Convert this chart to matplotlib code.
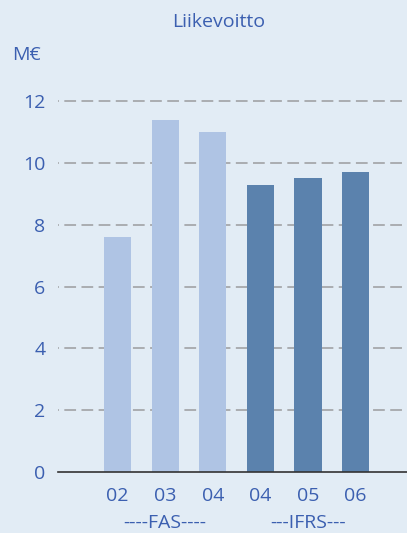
import matplotlib
matplotlib.use("Agg")
import matplotlib.pyplot as plt

categories = ["02", "03", "04", "04", "05", "06"]
values = [7.6, 11.4, 11.0, 9.3, 9.5, 9.7]
standards = ["FAS", "FAS", "FAS", "IFRS", "IFRS", "IFRS"]
group_labels = ["----FAS----", "---IFRS---"]
yticks = [0, 2, 4, 6, 8, 10, 12]
title = "Liikevoitto"
unit = "M€"

bg = "#E2ECF5"
light = "#AFC4E4"
dark = "#5B82AD"
txt = "#3B5FB0"
grid = "#A6A8AB"

plt.rcParams['font.family'] = ['Open Sans', 'DejaVu Sans']
fs = 14

fig = plt.figure(figsize=(4.07, 5.33), dpi=100, facecolor=bg)
ax = fig.add_axes([0.1425, 0.1144, 0.8575, 0.7076], facecolor=bg)

x = list(range(len(categories)))
colors = [light if s == "FAS" else dark for s in standards]
ax.bar(x, values, width=0.57, color=colors, zorder=2)

ax.set_xlim(-1.25, 6.08)
ax.set_ylim(0, 12.2)
ax.set_yticks(yticks)
ax.set_yticklabels([str(t) for t in yticks])
ax.set_xticks(x)
ax.set_xticklabels(categories)
for t in yticks[1:]:
    ax.axhline(t, color=grid, lw=1.3, ls=(6.0, (6.5, 3.0)), zorder=1)

for s in ["top", "right", "left"]:
    ax.spines[s].set_visible(False)
ax.spines["bottom"].set_color("#333333")
ax.spines["bottom"].set_linewidth(1.2)
ax.tick_params(axis="both", length=0, labelsize=fs, labelcolor=txt)
ax.tick_params(axis="y", pad=9)
ax.tick_params(axis="x", pad=11)

fig.text(0.538, 0.959, title, ha="center", va="center", color=txt, fontsize=fs)
fig.text(0.029, 0.897, unit, ha="left", va="center", color=txt, fontsize=fs)

# group labels under the ticks
fas_idx = [i for i, s in enumerate(standards) if s == "FAS"]
ifrs_idx = [i for i, s in enumerate(standards) if s == "IFRS"]
for idx, lab in zip([fas_idx, ifrs_idx], group_labels):
    cx = sum(idx) / len(idx)
    ax.annotate(lab, xy=(cx, 0), xycoords=("data", "axes fraction"),
                xytext=(0, -51), textcoords="offset pixels",
                ha="center", va="center", color=txt, fontsize=fs, annotation_clip=False)

fig.savefig("out.png", dpi=100, facecolor=bg)
